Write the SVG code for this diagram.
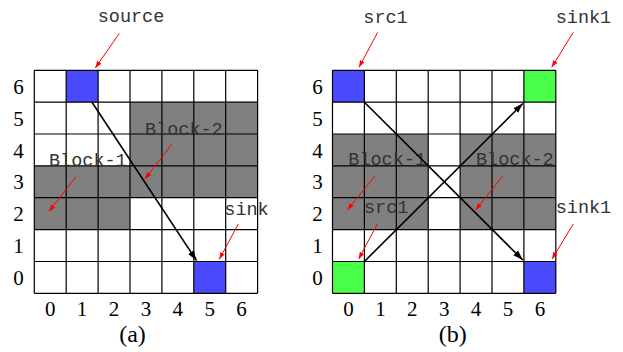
<svg xmlns="http://www.w3.org/2000/svg" width="623" height="352" viewBox="0 0 623 352">
<defs>
<marker id="ab" markerUnits="userSpaceOnUse" markerWidth="12" markerHeight="10" refX="10" refY="4" orient="auto">
<path d="M0,0.6 L10,4 L0,7.4 z" fill="#000"/>
</marker>
<marker id="ar" markerUnits="userSpaceOnUse" markerWidth="10" markerHeight="8" refX="7" refY="3" orient="auto">
<path d="M0,0.5 L7,3 L0,5.5 z" fill="#f00"/>
</marker>
</defs>
<style>
.gray{fill:#808080}
.blue{fill:#4a4aff}
.green{fill:#4aff4a}
.grid{fill:none;stroke:#000;stroke-width:1.2}
.mono{font-family:"Liberation Mono","DejaVu Sans Mono",monospace;font-size:18.5px;fill:#333}
.num{font-family:"Liberation Serif","DejaVu Serif",serif;font-size:21px;fill:#000;text-anchor:middle}
.cap{font-family:"Liberation Serif","DejaVu Serif",serif;font-size:24px;fill:#000;text-anchor:middle}
.blk{fill:none;stroke:#000;stroke-width:1.6}
.red{fill:none;stroke:#f00;stroke-width:1}
</style>

<g id="grid-a">
<rect class="gray" x="130" y="102.2" width="127.6" height="95.5"/>
<rect class="gray" x="34.3" y="165.9" width="95.7" height="63.7"/>
<g id="source-cell"><rect class="blue" x="66.2" y="70.3" width="31.9" height="31.9"/></g>
<g id="sink-cell"><rect class="blue" x="193.8" y="261.5" width="31.9" height="31.8"/></g>
<path class="grid" d="M34.3,70.3V293.3M66.2,70.3V293.3M98.1,70.3V293.3M130,70.3V293.3M161.9,70.3V293.3M193.8,70.3V293.3M225.7,70.3V293.3M257.6,70.3V293.3M34.3,70.3H257.6M34.3,102.2H257.6M34.3,134H257.6M34.3,165.9H257.6M34.3,197.7H257.6M34.3,229.6H257.6M34.3,261.5H257.6M34.3,293.3H257.6"/>
</g>

<g id="grid-b">
<rect class="gray" x="332.5" y="134" width="95.7" height="95.6"/>
<rect class="gray" x="460.1" y="134" width="95.7" height="95.6"/>
<g id="src1-top-cell"><rect class="blue" x="332.5" y="70.3" width="31.9" height="31.9"/></g>
<g id="sink1-top-cell"><rect class="green" x="523.9" y="70.3" width="31.9" height="31.9"/></g>
<g id="src1-bottom-cell"><rect class="green" x="332.5" y="261.5" width="31.9" height="31.8"/></g>
<g id="sink1-bottom-cell"><rect class="blue" x="523.9" y="261.5" width="31.9" height="31.8"/></g>
<path class="grid" d="M332.5,70.3V293.3M364.4,70.3V293.3M396.3,70.3V293.3M428.2,70.3V293.3M460.1,70.3V293.3M492,70.3V293.3M523.9,70.3V293.3M555.8,70.3V293.3M332.5,70.3H555.8M332.5,102.2H555.8M332.5,134H555.8M332.5,165.9H555.8M332.5,197.7H555.8M332.5,229.6H555.8M332.5,261.5H555.8M332.5,293.3H555.8"/>
</g>

<g id="labels-a">
<text class="mono" x="97.7" y="22">source</text>
<text class="mono" x="145" y="134.5">Block-2</text>
<text class="mono" x="49" y="166">Block-1</text>
<text class="mono" x="224.3" y="215">sink</text>
</g>
<g id="labels-b">
<text class="mono" x="363.3" y="22.7">src1</text>
<text class="mono" x="555.7" y="22.7">sink1</text>
<text class="mono" x="348.3" y="165.3">Block-1</text>
<text class="mono" x="476" y="165.3">Block-2</text>
<text class="mono" x="364" y="213.3">src1</text>
<text class="mono" x="555.7" y="213.3">sink1</text>
</g>

<g id="connectors">
<line class="blk" x1="92" y1="102.2" x2="196.5" y2="260.5" marker-end="url(#ab)"/>
<line class="blk" x1="364.4" y1="102.2" x2="522.8" y2="260" marker-end="url(#ab)"/>
<line class="blk" x1="364.4" y1="261.5" x2="522.8" y2="103.5" marker-end="url(#ab)"/>
<line class="red" x1="119.3" y1="33.3" x2="95.3" y2="68" marker-end="url(#ar)"/>
<line class="red" x1="171.7" y1="144.3" x2="145" y2="179" marker-end="url(#ar)"/>
<line class="red" x1="76" y1="176.5" x2="49" y2="211.5" marker-end="url(#ar)"/>
<line class="red" x1="238.3" y1="224" x2="219.3" y2="259.3" marker-end="url(#ar)"/>
<line class="red" x1="377.7" y1="32.3" x2="359" y2="67.3" marker-end="url(#ar)"/>
<line class="red" x1="573.3" y1="32.3" x2="551.7" y2="67.3" marker-end="url(#ar)"/>
<line class="red" x1="375" y1="176" x2="347.3" y2="210" marker-end="url(#ar)"/>
<line class="red" x1="502.7" y1="176" x2="475.7" y2="210" marker-end="url(#ar)"/>
<line class="red" x1="377.3" y1="224" x2="358.7" y2="259" marker-end="url(#ar)"/>
<line class="red" x1="573.3" y1="224" x2="552" y2="259" marker-end="url(#ar)"/>
</g>

<g id="axes-a">
<text class="num" x="18.5" y="93.8">6</text>
<text class="num" x="18.5" y="125.7">5</text>
<text class="num" x="18.5" y="157.5">4</text>
<text class="num" x="18.5" y="189.4">3</text>
<text class="num" x="18.5" y="221.2">2</text>
<text class="num" x="18.5" y="253.1">1</text>
<text class="num" x="18.5" y="285">0</text>
<text class="num" x="50.2" y="315.7">0</text>
<text class="num" x="82.1" y="315.7">1</text>
<text class="num" x="114" y="315.7">2</text>
<text class="num" x="145.9" y="315.7">3</text>
<text class="num" x="177.8" y="315.7">4</text>
<text class="num" x="209.7" y="315.7">5</text>
<text class="num" x="241.6" y="315.7">6</text>
<text class="cap" x="132.5" y="341.5">(a)</text>
</g>
<g id="axes-b">
<text class="num" x="317.5" y="93.8">6</text>
<text class="num" x="317.5" y="125.7">5</text>
<text class="num" x="317.5" y="157.5">4</text>
<text class="num" x="317.5" y="189.4">3</text>
<text class="num" x="317.5" y="221.2">2</text>
<text class="num" x="317.5" y="253.1">1</text>
<text class="num" x="317.5" y="285">0</text>
<text class="num" x="348.5" y="315.7">0</text>
<text class="num" x="380.4" y="315.7">1</text>
<text class="num" x="412.3" y="315.7">2</text>
<text class="num" x="444.2" y="315.7">3</text>
<text class="num" x="476.1" y="315.7">4</text>
<text class="num" x="508" y="315.7">5</text>
<text class="num" x="539.9" y="315.7">6</text>
<text class="cap" x="452.7" y="341.5">(b)</text>
</g>
</svg>
